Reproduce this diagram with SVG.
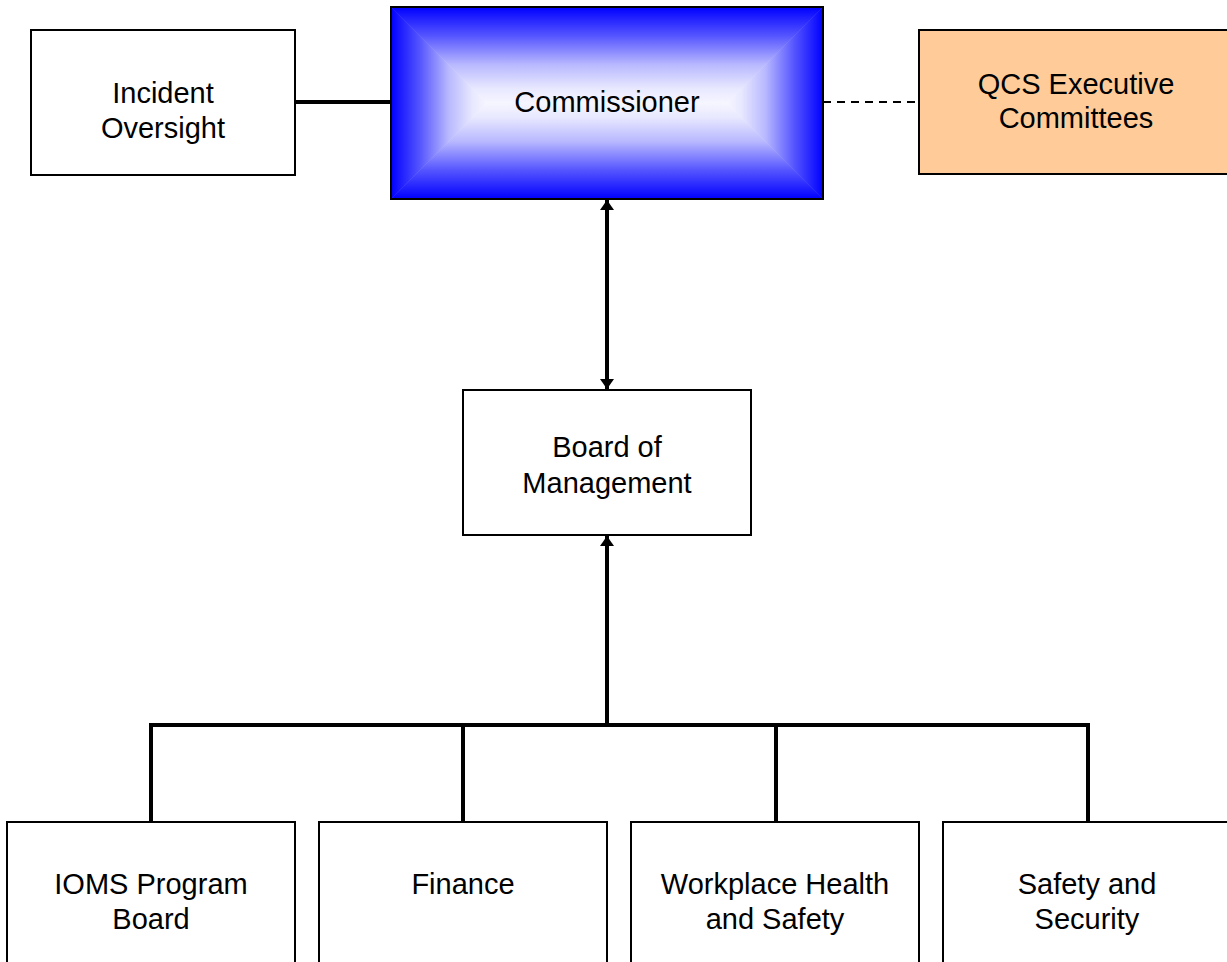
<svg xmlns="http://www.w3.org/2000/svg" width="1227" height="962" viewBox="0 0 1227 962">
<style>
.box{fill:#fff;stroke:#000;stroke-width:2}
.t{font-family:"Liberation Sans",Arial,sans-serif;font-size:29px;fill:#000;text-anchor:middle}
.c{fill:none;stroke:#000;stroke-width:4}
</style>
<defs>
<linearGradient id="g" x1="0" y1="0" x2="0" y2="1">
<stop offset="0" stop-color="#0000ff"/><stop offset="0.3" stop-color="#5555ff"/><stop offset="0.6" stop-color="#b8b8ff"/><stop offset="0.85" stop-color="#e8e8ff"/><stop offset="1" stop-color="#f6f6ff"/>
</linearGradient>
<linearGradient id="gT" href="#g" x1="0" y1="7" x2="0" y2="103" gradientUnits="userSpaceOnUse"/>
<linearGradient id="gB" href="#g" x1="0" y1="199" x2="0" y2="103" gradientUnits="userSpaceOnUse"/>
<linearGradient id="gL" href="#g" x1="391" y1="0" x2="487" y2="0" gradientUnits="userSpaceOnUse"/>
<linearGradient id="gR" href="#g" x1="823" y1="0" x2="727" y2="0" gradientUnits="userSpaceOnUse"/>
<marker id="ah" viewBox="0 0 10 14" refX="10" refY="7" markerWidth="10" markerHeight="14" orient="auto-start-reverse" markerUnits="userSpaceOnUse"><path d="M0,0 L10,7 L0,14 z" fill="#000"/></marker>
</defs>
<g id="connectors">
<line class="c" x1="295" y1="102" x2="391" y2="102"/>
<line x1="823" y1="102" x2="919" y2="102" stroke="#000" stroke-width="2" stroke-dasharray="8,6"/>
<line class="c" x1="607" y1="200" x2="607" y2="389" marker-start="url(#ah)" marker-end="url(#ah)"/>
<line class="c" x1="607" y1="725" x2="607" y2="536" marker-end="url(#ah)"/>
<polyline class="c" points="151,822 151,725 1088,725 1088,822"/>
<line class="c" x1="463" y1="725" x2="463" y2="822"/>
<line class="c" x1="776" y1="725" x2="776" y2="822"/>
</g>
<g id="commissioner">
<polygon points="391,7 823,7 727,103 487,103" fill="url(#gT)" stroke="url(#gT)" stroke-width="0.5"/>
<polygon points="391,199 823,199 727,103 487,103" fill="url(#gB)" stroke="url(#gB)" stroke-width="0.5"/>
<polygon points="391,7 487,103 391,199" fill="url(#gL)" stroke="url(#gL)" stroke-width="0.5"/>
<polygon points="823,7 727,103 823,199" fill="url(#gR)" stroke="url(#gR)" stroke-width="0.5"/>
<rect x="391" y="7" width="432" height="192" fill="none" stroke="#000" stroke-width="2"/>
<text class="t" x="607" y="112">Commissioner</text>
</g>
<g id="incident-oversight">
<rect class="box" x="31" y="30" width="264" height="145"/>
<text class="t" x="163" y="103">Incident</text>
<text class="t" x="163" y="138">Oversight</text>
</g>
<g id="qcs-executive-committees">
<rect x="919" y="30" width="314" height="144" fill="#ffcc99" stroke="#000" stroke-width="2"/>
<text class="t" x="1076" y="94">QCS Executive</text>
<text class="t" x="1076" y="128">Committees</text>
</g>
<g id="board-of-management">
<rect class="box" x="463" y="390" width="288" height="145"/>
<text class="t" x="607" y="457">Board of</text>
<text class="t" x="607" y="493">Management</text>
</g>
<g id="iOMS-program-board">
<rect class="box" x="7" y="822" width="288" height="145"/>
<text class="t" x="151" y="894">IOMS Program</text>
<text class="t" x="151" y="929">Board</text>
</g>
<g id="finance">
<rect class="box" x="319" y="822" width="288" height="145"/>
<text class="t" x="463" y="894">Finance</text>
</g>
<g id="workplace-health-and-safety">
<rect class="box" x="631" y="822" width="288" height="145"/>
<text class="t" x="775" y="894">Workplace Health</text>
<text class="t" x="775" y="929">and Safety</text>
</g>
<g id="safety-and-security">
<rect class="box" x="943" y="822" width="288" height="145"/>
<text class="t" x="1087" y="894">Safety and</text>
<text class="t" x="1087" y="929">Security</text>
</g>
</svg>
